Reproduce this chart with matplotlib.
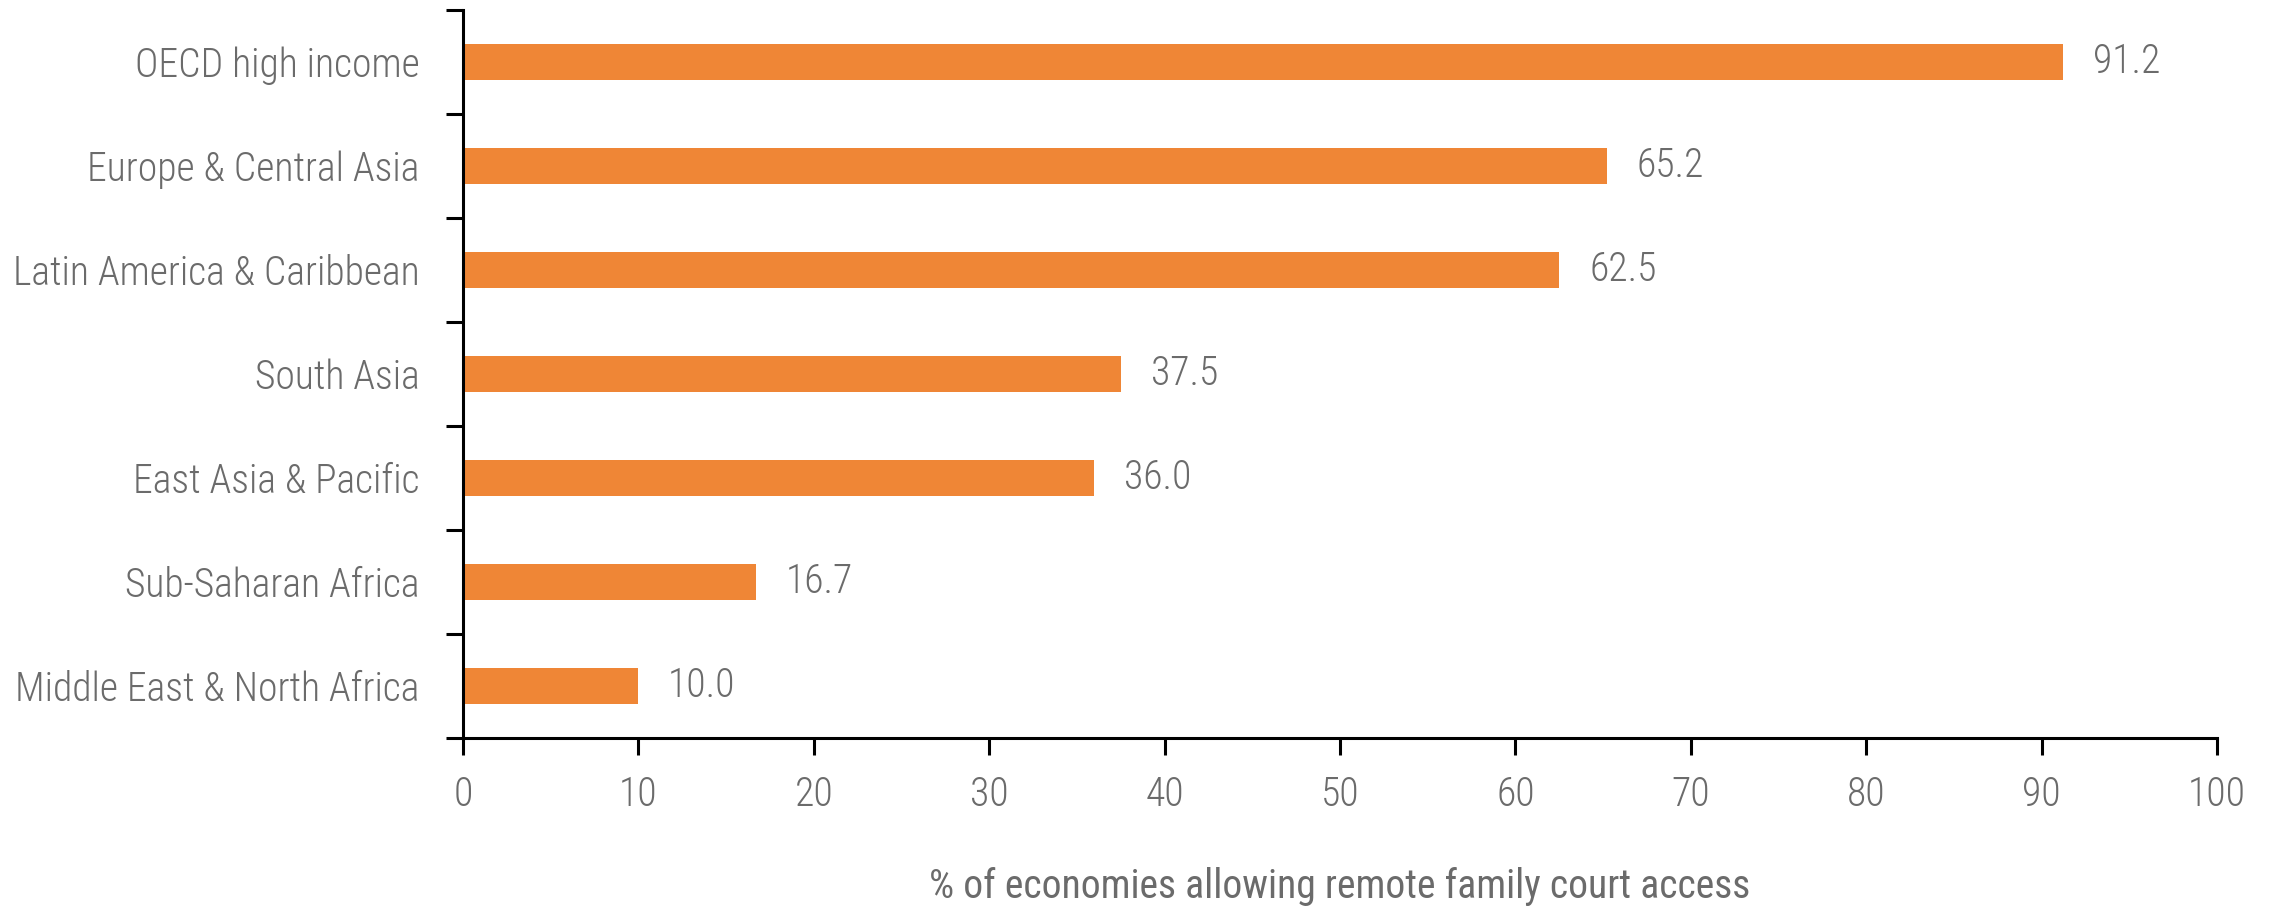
import matplotlib
matplotlib.use('Agg')
import matplotlib.pyplot as plt
import numpy as np

# Share of economies allowing remote family court access, by region
regions = [
    'OECD high income',
    'Europe & Central Asia',
    'Latin America & Caribbean',
    'South Asia',
    'East Asia & Pacific',
    'Sub-Saharan Africa',
    'Middle East & North Africa',
]
shares = [91.2, 65.2, 62.5, 37.5, 36.0, 16.7, 10.0]
x_ticks = [0, 10, 20, 30, 40, 50, 60, 70, 80, 90, 100]

bar_color = '#EF8636'
text_color = '#6b6b6b'

plt.rcParams['font.family'] = ['Roboto Condensed', 'DejaVu Sans']
plt.rcParams['font.weight'] = 'light'
fs = 28.5

fig = plt.figure(figsize=(22.77, 9.11), dpi=100)
ax = fig.add_axes([0.2033, 0.1899, 0.7704, 0.7991])

# top category at the top
ypos = np.arange(len(regions))[::-1]
ax.barh(ypos, shares, height=0.35, color=bar_color, zorder=2)

for y, v in zip(ypos, shares):
    ax.text(v + 1.7, y, f'{v:.1f}', va='center', ha='left',
            fontsize=fs, color=text_color)

ax.set_xlim(0, 100)
ax.set_ylim(-0.5, len(regions) - 0.5)

# ticks sit on the category boundaries, labels in the middle
ax.set_yticks(np.arange(len(regions) + 1) - 0.5)
ax.set_yticklabels([])
ax.set_yticks(ypos, minor=True)
ax.set_yticklabels(regions, minor=True)
ax.tick_params(axis='y', which='major', length=12, width=2.2, color='black')
ax.tick_params(axis='y', which='minor', length=0, pad=31,
               labelsize=fs, labelcolor=text_color)

ax.set_xticks(x_ticks)
ax.set_xticklabels([str(t) for t in x_ticks])
ax.tick_params(axis='x', length=12, width=2.2, color='black', pad=15,
               labelsize=fs, labelcolor=text_color)

for side in ['top', 'right']:
    ax.spines[side].set_visible(False)
for side in ['left', 'bottom']:
    ax.spines[side].set_linewidth(2.2)
    ax.spines[side].set_color('black')

ax.set_xlabel('% of economies allowing remote family court access',
              fontsize=fs, color=text_color, labelpad=38)

fig.savefig('out.png', dpi=100)
